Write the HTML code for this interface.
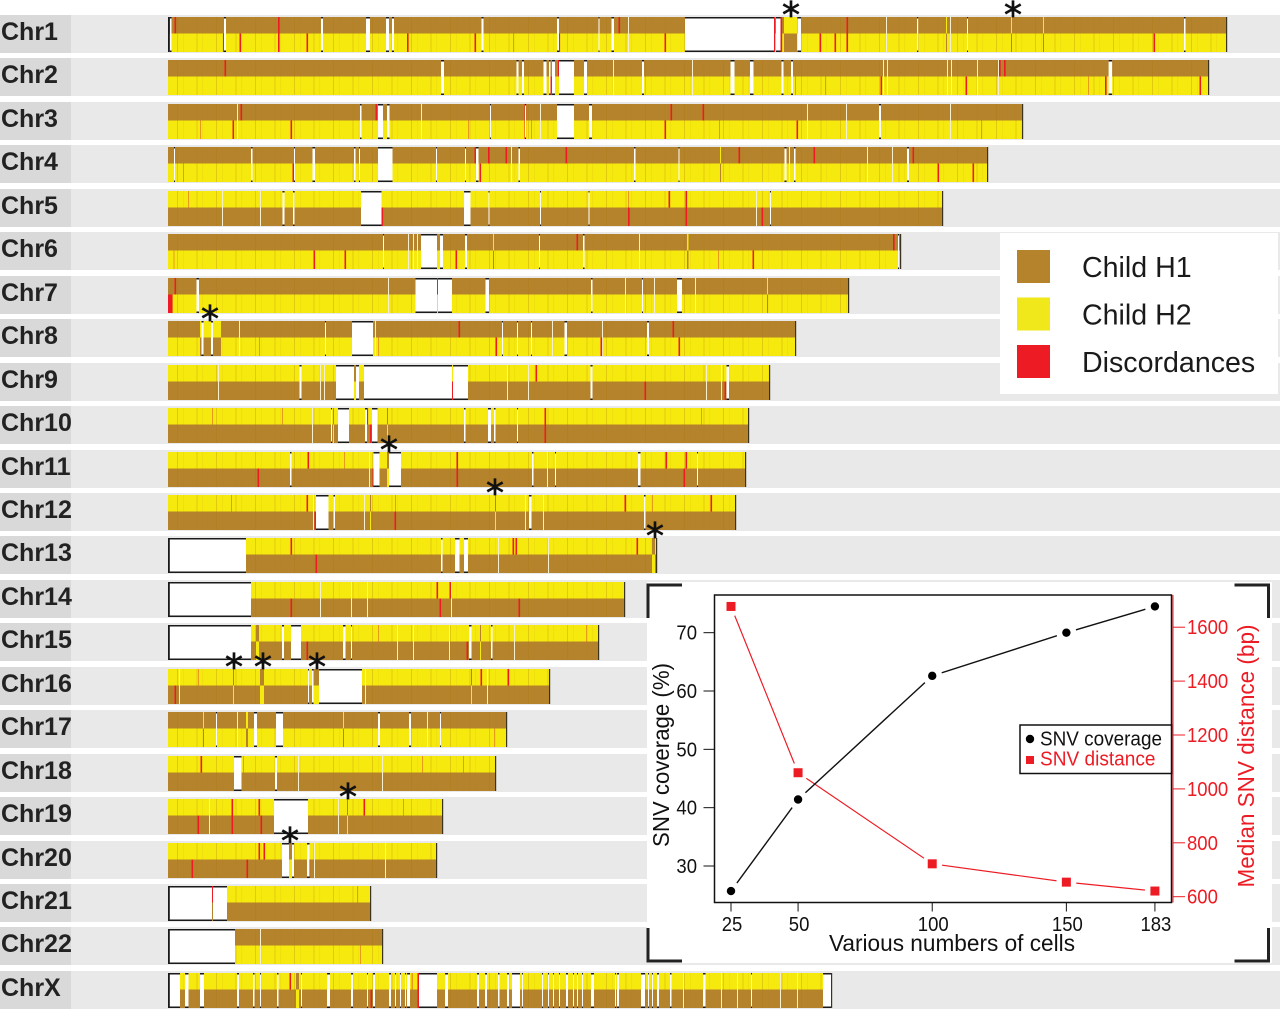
<!DOCTYPE html>
<html lang="en">
<head>
<meta charset="utf-8">
<title>Chromosome haplotype map with SNV coverage inset</title>
<style>
html,body{margin:0;padding:0;background:#fff;width:1280px;height:1009px;overflow:hidden}
svg{display:block;filter:blur(0.35px)}
text{font-family:"Liberation Sans",Arial,sans-serif}
</style>
</head>
<body>
<svg id="figure" xmlns="http://www.w3.org/2000/svg" width="1280" height="1009" viewBox="0 0 1280 1009">
<defs>
<pattern id="track-texture" patternUnits="userSpaceOnUse" x="168" y="0" width="19.5" height="10">
<rect x="9" y="0" width="1" height="10" fill="#A8760A" fill-opacity="0.28"/>
<rect x="15" y="0" width="0.6" height="10" fill="#A8760A" fill-opacity="0.14"/>
</pattern>
</defs>
</svg>
<script>
// ---- Chromosome data. Positions are genome bins along each chromosome. ----
const chromNames = ["Chr1","Chr2","Chr3","Chr4","Chr5","Chr6","Chr7","Chr8","Chr9","Chr10","Chr11","Chr12","Chr13","Chr14","Chr15","Chr16","Chr17","Chr18","Chr19","Chr20","Chr21","Chr22","ChrX"];
const chromLengths = [1059,1041,855,820,775,733,681,628,602,581,578,568,489,457,431,382,339,328,275,269,203,215,664];
const h2OnTop = [0,0,0,0,1,0,0,0,1,1,1,1,1,1,1,1,0,1,1,1,1,0,1];
const gaps = [
 [[2,1.5],[56,2],[153,2],[198,4],[218,3],[224,2],[313.5,2],[389,2],[430.5,1],[443.5,2.5],[517,89],[608,4.5],[629.5,3.5],[749,1.2],[799,1],[1016,1.5]],
 [[273,3],[348.5,2],[354,2],[375.5,3],[381,1.5],[384,3],[391,15],[416,3],[474,2],[562.5,4],[582,3.5],[613.5,2],[623,2],[940.6,3.5]],
 [[192,1.5],[210,5],[219,2.5],[322,1],[357,1],[389,17],[421,3],[711,2]],
 [[6,1],[83,1.5],[126,1],[144.5,2.5],[186,1.5],[191,1],[210,14.5],[268,1],[297,1],[308,2.5],[350.5,1.5],[466,1.5],[510.5,1],[616.5,2],[626,1.5],[739,2]],
 [[114.5,2],[125,1.5],[193,20.5],[296,6.5],[320.5,1],[372,1],[420.5,1],[602,1]],
 [[215,1],[253,16],[272,3],[297,2],[371,1],[415,1.5],[730,1]],
 [[28.5,2.5],[247.5,21.5],[270,14],[317.5,3.5],[423,1.5],[474,1],[509,5]],
 [[33.5,2],[43,2],[157,1],[184,21],[334,1],[349,1],[363,1],[396.5,2.5],[479,2]],
 [[131.5,2],[168,18],[188,3],[196,88],[285,15],[422.5,2],[558.5,2.5]],
 [[163,1],[170,11],[197,2],[204,5.5],[296,1.5],[320,3],[326,1.5],[349,1]],
 [[122,1.5],[205.5,6],[221,12],[364,1.5],[387,1],[470,2.5],[529,1]],
 [[148,12.5],[165.5,1.5],[361,2.5],[476,1.5]],
 [[0,78],[273,1.5],[287,4.5],[296,4]],
 [[0,83]],
 [[0,83],[114,2],[123,10],[175,2.5],[183,1],[301,2.5],[323,1.5]],
 [[140,1],[144,1.5],[151,43]],
 [[48,1],[86,3],[108,7],[210,2],[241,2],[272,1]],
 [[66,7.5],[107,2]],
 [[106,34]],
 [[114,7],[124,2],[139,2.5]],
 [[0,44],[45,14]],
 [[0,67]],
 [[0,12],[17,3.5],[32,4],[69,2],[85,1.5],[92,1],[109,1.5],[133,1],[159,3],[183,2],[199,1],[205,2],[221,2],[227,1],[232,1],[237,1],[239,3],[251,18],[277,3],[309,2],[317,2],[330,1.5],[339,2],[344,8],[354,1],[374,1],[380,1],[385,1],[391,1],[398,2],[405,1],[409,1],[414,1],[423,3],[447,1],[449,2],[473,4],[480,1],[484,1],[489,2],[502,1.5],[535,2.5],[583,1],[655,8]]
];
const paleLines = [
 [[782],[718],[460]],[[524],[445],[715],[719],[779],[783],[809],[830]],[[69],[253],[372],[639],[678],[782]],[[343],[621],[699],[724]],[[54],[92],[588]],[[240],[245],[249],[471]],[[220],[457],[486],[527]],[[71],[207],[384],[434]],[[50],[152],[156],[339],[360],[538],[553]],[[144],[163],[377]],[[201],[379]],[[145],[196],[357],[375]],[[330],[380]],[[152],[183],[199],[283]],[[229],[245],[281],[346]],[[11],[197],[319]],[[69],[259]],[[130],[214]],[[41],[170]],[[146],[217]],[],[[92]],[[515],[553],[569],[612],[629]]
];
const redTop = [
 [7,110.5,451,606,613,679],[57,390.5,831.5,836.5],[73,208,357,503,535],[307,320.5,338,398,571,646,745],[501,518],[409,725.5],[7,269],[291,505],[368],[199,377],[140,289,498,518],[139,457,543],[123,345,348,469],[269,282],[],[313,340],[],[33],[64,91,196],[91,96],[44],[],[122,250]
];
const redBottom = [
 [55.5,72,110.5,139,239.5,307,391,497,606,613,652,667,679,986],[383,713,798,937.5,1032],[65,123,357,497,629],[125,312,770,805],[214,460.5,518,594],[146,177,288,585],[0.5,1.5,2.5,3.5],[328,433,511],[284,477,557],[202.5,377],[90,205,289,516],[147,227],[148],[123,272,351],[139,299],[7],[],[],[30,64,93],[24,79,141],[],[],[203,250]
];
const weakLines = [
 [345,307,631],[627,657,920,1032],[32,300,363,551,813],[15,312],[20,460],[5.5,550],[],[91,210,328],[921],[44,114,533],[176],[63,227,484],[],[1053],[210,418],[30],[326],[75,254,295],[235],[],[189],[192],[244]
];
const swaps = [
 [[616,13],[778,1],[843,1],[875,1]],[],[],[[552,1]],[],[[325,1],[519,1.5]],[[599,1]],[[32,21]],[[186,2]],[[165,1],[219,1]],[[219,2]],[[202,1],[327,1]],[[484,3]],[],[[88,3],[312,1]],[[65,1],[92,4],[145,6],[303,1]],[[35,1],[78,2],[175,1]],[],[[179,1]],[[121,3]],[],[],[[128,3]]
];
const asteriskChrom = [0,0,7,10,11,12,15,15,15,18,19];
const asteriskBin = [623,845,42,221,327,487,66,95,149,180,122];
const legendLabels = ["Child H1","Child H2","Discordances"];

// ---- Inset chart data. ----
const cellCounts = [25,50,100,150,183];
const snvCoverage = [25.7,41.4,62.6,70,74.5];
const snvDistance = [1677,1060,722,654,621];
const coverageTicks = [30,40,50,60,70];
const distanceTicks = [600,800,1000,1200,1400,1600];

const BROWN = "#B5832C", YELLOW = "#F6E90E", RED = "#ED1C24";
const svg = document.getElementById("figure");
const NS = "http://www.w3.org/2000/svg";
function add(tag, attrs, txt) {
  const e = document.createElementNS(NS, tag);
  for (const k in attrs) e.setAttribute(k, attrs[k]);
  if (txt !== undefined) e.textContent = txt;
  svg.appendChild(e);
  return e;
}
function box(name, x, y, w, h, fill) {
  const e = add("rect", {x: x, y: y, width: w, height: h, fill: fill});
  
  
  return e;
}
function label(name, x, y, str, size, fill, extra) {
  const e = add("text", Object.assign({x: x, y: y, "font-size": size, fill: fill}, extra || {}), str);
  
  
  return e;
}

// Map axes
const binX = b => 168 + b;
const rowTop = i => Math.round(17 + 43.45 * i);
const TOP_H = 16.5, BOT_H = 18.5;

chromNames.forEach((name, i) => {
  const y = rowTop(i), key = name.toLowerCase();
  const L = chromLengths[i];
  box(key + "-band", 71, y - 2, 1209, 38, "#E9E9E9");
  box(key + "-label-band", 0, y - 2, 71, 38, "#D9D9D9");
  label(key + "-label", 1, y + 23, name, 25, "#222", {"font-weight": "bold"});
  const topC = h2OnTop[i] ? YELLOW : BROWN, botC = h2OnTop[i] ? BROWN : YELLOW;
  box(key + "-top-track", binX(0), y, L, TOP_H, topC);
  box(key + "-bottom-track", binX(0), y + TOP_H, L, BOT_H, botC);
  box(key + "-track-texture", binX(0), y, L, TOP_H + BOT_H, "url(#track-texture)");
  weakLines[i].forEach(b => {
    box(key + "-minor-switch", binX(b), y + (h2OnTop[i] ? 0 : TOP_H), 1, h2OnTop[i] ? TOP_H : BOT_H, "#E89A1A");
  });
  swaps[i].forEach(s => {
    box(key + "-swap-top", binX(s[0]), y, s[1], TOP_H, botC);
    box(key + "-swap-bottom", binX(s[0]), y + TOP_H, s[1], BOT_H, topC);
  });
  paleLines[i].forEach(p => {
    box(key + "-pale-line", binX(p[0]), y, 1, TOP_H + BOT_H, "#F6EFD0");
  });
  redTop[i].forEach(b => box(key + "-discordance", binX(b) - 0.5, y, 1.6, TOP_H, RED));
  redBottom[i].forEach(b => box(key + "-discordance", binX(b) - 0.5, y + TOP_H, 1.6, BOT_H, RED));
  gaps[i].forEach(g => {
    box(key + "-gap", binX(g[0]), y, g[1], TOP_H + BOT_H, "#FFFFFF");
    box(key + "-gap-top-edge", binX(g[0]), y, g[1], 1.5, "#1A1A1A");
    box(key + "-gap-bottom-edge", binX(g[0]), y + TOP_H + BOT_H - 1.5, g[1], 1.5, "#1A1A1A");
    if (g[0] === 0) box(key + "-start-edge", binX(0), y, 1.8, TOP_H + BOT_H, "#1A1A1A");
  });
  box(key + "-end-edge", binX(L) - 1, y, 1.2, TOP_H + BOT_H, "#3A3320");
});
box("chr1-start-edge", 168, 17, 1.8, 35, "#1A1A1A");

// Asterisks
asteriskChrom.forEach((c, i) => {
  const x = binX(asteriskBin[i]), y = Math.max(6, rowTop(c) - 8);
  label("switch-asterisk", x, y + 18, "*", 36, "#111", {"text-anchor": "middle", stroke: "#111", "stroke-width": 0.7, style: 'font-family:"DejaVu Sans",sans-serif'});
});

// Legend
box("legend-background", 1000, 233, 278, 161, "#FFFFFF");
[BROWN, "#F1E81B", RED].forEach((c, i) => {
  box("legend-swatch-" + (i + 1), 1017, 250 + 47.5 * i, 33, 33, c);
  label("legend-label-" + (i + 1), 1082, 277 + 47.5 * i, legendLabels[i], 28.6, "#1a1a1a");
});

// Inset
box("inset-background", 647, 582, 625, 381, "#FFFFFF");
[[648,585,1,1],[1268.5,585,-1,1],[648,961,1,-1],[1268.5,961,-1,-1]].forEach((c, i) => {
  const d = `M${c[0] + c[2] * 34},${c[1]} H${c[0]} V${c[1] + c[3] * 33}`;
  const p = add("path", {d: d, fill: "none", stroke: "#222", "stroke-width": 3});
  
  
});
const xScale = v => 731 + (v - 25) * 2.683;
const yLeft = v => 866 - (v - 30) * 5.833;
const yRight = v => 896.7 - (v - 600) * 0.2695;
const PL = 714.5, PR = 1171.5, PT = 595, PB = 902.5;
const digitWidth = 10.3;

const frame = add("rect", {x: PL, y: PT, width: PR - PL, height: PB - PT, fill: "#fff", stroke: "#111", "stroke-width": 1.5});


const rightAxis = add("line", {x1: 1173, x2: 1173, y1: PT, y2: PB, stroke: RED, "stroke-width": 1});



cellCounts.forEach(v => {
  const x = xScale(v), s = String(v);
  const t = add("line", {x1: x, x2: x, y1: PB, y2: PB + 9, stroke: "#111", "stroke-width": 1});
  
  
  label("x-tick-label", x + 1, 931, s, 20, "#111", {"text-anchor": "middle", textLength: s.length * digitWidth, lengthAdjust: "spacingAndGlyphs"});
});
coverageTicks.forEach(v => {
  const y = yLeft(v), s = String(v);
  const t = add("line", {x1: PL - 11, x2: PL, y1: y, y2: y, stroke: "#111", "stroke-width": 1});
  
  
  label("left-y-tick-label", 697, y + 7, s, 20, "#111", {"text-anchor": "end", textLength: s.length * digitWidth, lengthAdjust: "spacingAndGlyphs"});
});
distanceTicks.forEach(v => {
  const y = yRight(v), s = String(v);
  const t = add("line", {x1: 1173, x2: 1185, y1: y, y2: y, stroke: RED, "stroke-width": 1});
  
  
  label("right-y-tick-label", 1187, y + 7, s, 20, RED, {textLength: s.length * digitWidth, lengthAdjust: "spacingAndGlyphs"});
});
label("x-axis-title", 952, 951, "Various numbers of cells", 23.5, "#111", {"text-anchor": "middle", textLength: 246, lengthAdjust: "spacingAndGlyphs"});
label("left-y-axis-title", 0, 0, "SNV coverage (%)", 23.5, "#111", {"text-anchor": "middle", transform: "translate(669,755) rotate(-90)", textLength: 184, lengthAdjust: "spacingAndGlyphs"});
label("right-y-axis-title", 0, 0, "Median SNV distance (bp)", 23.5, RED, {"text-anchor": "middle", transform: "translate(1254,756) rotate(-90)", textLength: 263, lengthAdjust: "spacingAndGlyphs"});

const linePts = (vals, yf) => vals.map((v, i) => xScale(cellCounts[i]) + "," + yf(v)).join(" ");
const redLine = add("polyline", {points: linePts(snvDistance, yRight), fill: "none", stroke: RED, "stroke-width": 1.2});


const blackLine = add("polyline", {points: linePts(snvCoverage, yLeft), fill: "none", stroke: "#111", "stroke-width": 1.4});



cellCounts.forEach((c, i) => {
  const x = xScale(c), y1 = yRight(snvDistance[i]), y2 = yLeft(snvCoverage[i]);
  const h1 = add("circle", {cx: x, cy: y1, r: 10, fill: "#fff"});
  
  
  const h2 = add("circle", {cx: x, cy: y2, r: 10, fill: "#fff"});
  
  
});
cellCounts.forEach((c, i) => {
  const x = xScale(c);
  box("snv-distance-point", x - 4.5, yRight(snvDistance[i]) - 4.5, 9, 9, RED);
  const dot = add("circle", {cx: x, cy: yLeft(snvCoverage[i]), r: 4.2, fill: "#000"});
  
  
});

// Inset legend
const lg = add("rect", {x: 1020, y: 725, width: 151.5, height: 48.5, fill: "#fff", stroke: "#111", "stroke-width": 1.5});


const lgDot = add("circle", {cx: 1030, cy: 739, r: 4.2, fill: "#000"});


label("inset-legend-coverage-label", 1040, 745.5, "SNV coverage", 20.5, "#111", {textLength: 122, lengthAdjust: "spacingAndGlyphs"});
box("inset-legend-distance-marker", 1026, 756, 8, 8, RED);
label("inset-legend-distance-label", 1040, 765.5, "SNV distance", 20.5, RED, {textLength: 115.5, lengthAdjust: "spacingAndGlyphs"});
</script>
</body>
</html>
